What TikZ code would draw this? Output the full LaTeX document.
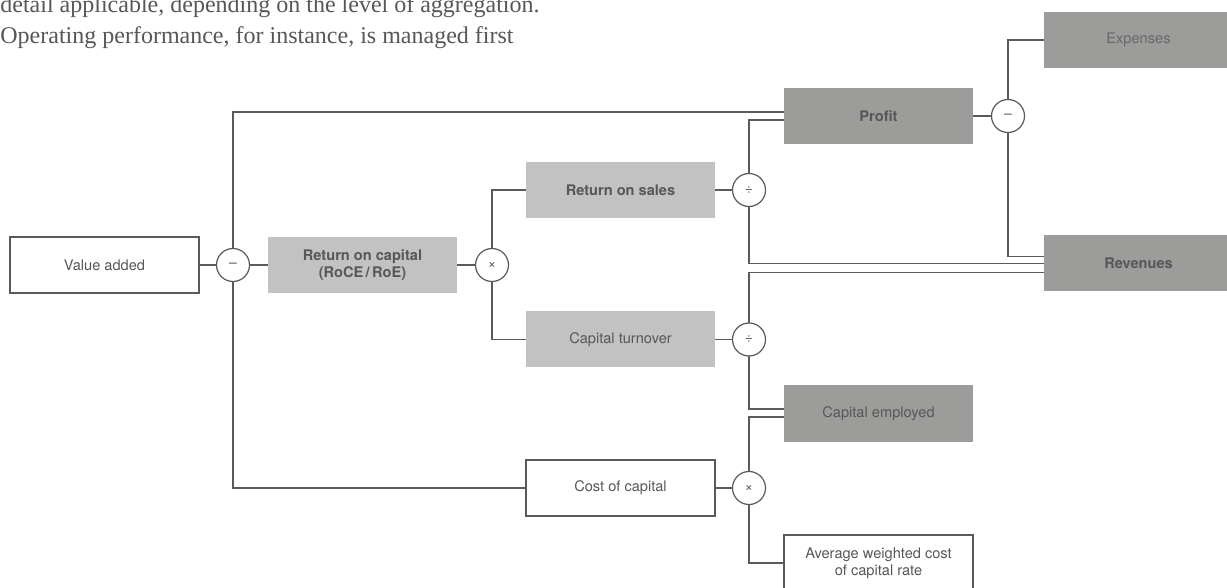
\documentclass[tikz,border=0pt]{standalone}
\usepackage{fontspec}
\setmainfont{Liberation Serif}
\setsansfont{TeX Gyre Heros}
\usetikzlibrary{positioning}
\definecolor{lineGray}{HTML}{5A5A5A}
\definecolor{textGray}{HTML}{575757}
\definecolor{fillLight}{HTML}{C2C2C2}
\definecolor{fillDark}{HTML}{9C9C9A}

\begin{document}
\begin{tikzpicture}[  node distance=9.25pt,  every node/.style={font=\sffamily\fontsize{7.3}{8.3}\selectfont, text=textGray},  box/.style={    draw=lineGray,    line width=0.6pt,    fill=white,    rectangle,    minimum width=94.5pt,    minimum height=28pt,    inner sep=0pt,    outer sep=0pt,    align=center  },  light/.style={box, draw=none, fill=fillLight},  dark/.style={box, draw=none, fill=fillDark},  op/.style={    draw=lineGray,    line width=0.6pt,    circle,    fill=white,    minimum size=16.5pt,    inner sep=0pt,    outer sep=0pt,    font=\sffamily\fontsize{7}{7}\selectfont  },  link/.style={    draw=lineGray,    line width=0.6pt  }]
		\useasboundingbox (0,0) rectangle (613.5pt,-294pt);
		% Nodes
		\node[box] (VA) at (52.25pt,-132.5pt) {Value added};
		\node[op, right=8.75pt of VA] (mVA) {–};
		\node[light, right=of mVA] (RoC) {\textbf{Return on capital}\\\textbf{(RoCE\,/\,RoE)}};
		\node[op, right=of RoC] (xRoC) {×};
		\node[light, right=8.75pt of xRoC, yshift=37.5pt] (RoS) {\textbf{Return on sales}};
		\node[light, right=8.75pt of xRoC, yshift=-37.25pt] (CT) {Capital turnover};
		\node[box, below=46.25pt of CT] (CoC) {Cost of capital};
		\node[op, right=8.75pt of RoS] (dRoS) {÷};
		\node[op, right=8.75pt of CT] (dCT) {÷};
		\node[op, right=8.75pt of CoC] (xCoC) {×};
		\node[dark, right=of dRoS, yshift=37pt] (Prof) {\textbf{Profit}};
		\node[dark, right=of dCT, yshift=-37pt] (CE) {Capital employed};
		\node[box, right=of xCoC, yshift=-37.5pt] (WACC) {Average weighted cost\\of capital rate};
		\node[op, right=of Prof] (mProf) {–};
		\node[dark, right=9.75pt of mProf, yshift=38pt, text=textGray!90] (Exp) {Expenses};
		\node[dark, right=9.75pt of mProf, yshift=-73.75pt] (Rev) {\textbf{Revenues}};
		% Connectors
		\draw[link] (VA) -- (mVA);
		\draw[link] (mVA) -- (RoC);
		\draw[link] (RoC) -- (xRoC);
		\draw[link] (xRoC.north) |- (RoS.west);
		\draw[link] (xRoC.south) |- (CT.west);
		\draw[link] (mVA.north) |- ([yshift=2pt]Prof.west);
		\draw[link] (mVA.south) |- (CoC.west);
		\draw[link] (RoS) -- (dRoS);
		\draw[link] (CT) -- (dCT);
		\draw[link] (CoC) -- (xCoC);
		\draw[link] (dRoS.north) |- ([yshift=-2pt]Prof.west);
		\draw[link] (dRoS.south) |- (Rev.west);
		\draw[link] (dCT.north) |- ([yshift=-4.5pt]Rev.west);
		\draw[link] (dCT.south) |- ([yshift=2.25pt]CE.west);
		\draw[link] (xCoC.north) |- ([yshift=-1.75pt]CE.west);
		\draw[link] (xCoC.south) |- (WACC.west);
		\draw[link] (Prof) -- (mProf);
		\draw[link] (mProf.north) |- (Exp.west);
		\draw[link] (mProf.south) |- ([yshift=3.5pt]Rev.west);
		% Labels
		\node[anchor=base west, inner sep=0pt, font=\rmfamily\fontsize{12}{12}\selectfont] (intro1) at (0,-6.4pt) {detail applicable, depending on the level of aggregation.};
		\node[anchor=base west, inner sep=0pt, font=\rmfamily\fontsize{12}{12}\selectfont] (intro2) at (0,-22pt) {Operating performance, for instance, is managed first};
	\end{tikzpicture}
\end{document}
